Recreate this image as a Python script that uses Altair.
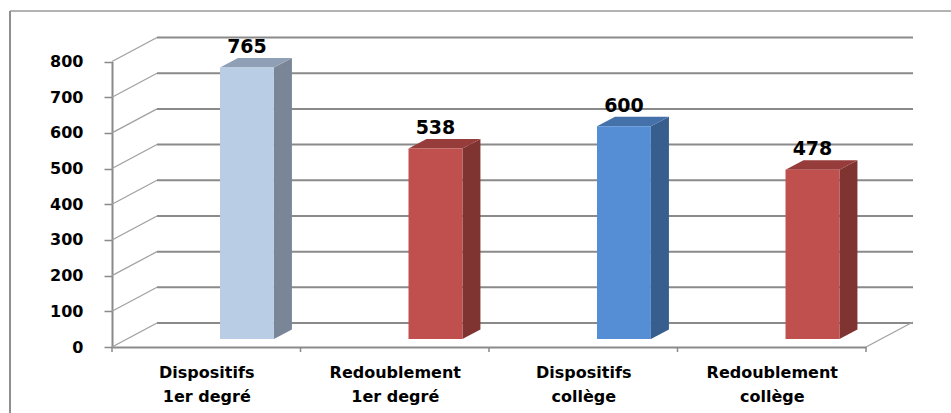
import json
import altair as alt
import pandas as pd

# ---- data ----
categories = ["Dispositifs 1er degré", "Redoublement 1er degré",
              "Dispositifs collège", "Redoublement collège"]
label_lines = [["Dispositifs", "1er degré"], ["Redoublement", "1er degré"],
               ["Dispositifs", "collège"], ["Redoublement", "collège"]]
values = [765, 538, 600, 478]
y_ticks = [0, 100, 200, 300, 400, 500, 600, 700, 800]

# ---- styles ----
front_colors = ["#B9CDE5", "#C0504D", "#558ED5", "#C0504D"]
side_colors = ["#7A8698", "#7F3432", "#375E8C", "#7F3432"]
top_colors = ["#8FA0B6", "#963D3B", "#4471AA", "#963D3B"]
GRID = "#8a8a8a"
FONT = "DejaVu Sans"

# ---- 3-D geometry ----
X_RANGE = [102, 856]          # pixel span of the 4 categories (plot coords)
Y_RANGE = [336, 50.5]         # pixel span of 0..800
px_per_cat = (X_RANGE[1] - X_RANGE[0]) / 4
px_per_val = (Y_RANGE[0] - Y_RANGE[1]) / 800
FACE_L, FACE_R = 0.573, 0.859              # front face inside each category
DEPTH_X = 18 / px_per_cat                  # bar depth, in category units
DEPTH_Y = 9.5 / px_per_val                 # bar depth, in value units
TOP_SHIFT, BASE_SHIFT = -6.6, -8           # front face lift (px)
WALL_DX, WALL_DY = 45, -24                 # back wall offset (px)

xs = alt.Scale(domain=[0, 4], range=X_RANGE, nice=False, zero=False)
ys = alt.Scale(domain=[0, 800], range=Y_RANGE, nice=False, zero=False)

label_expr = json.dumps(label_lines, ensure_ascii=False) + "[floor(datum.value)]"

x_axis = alt.Axis(
    values=[0.5, 1.5, 2.5, 3.5], labelExpr=label_expr, title=None,
    ticks=False, grid=False, domainColor=GRID, domainWidth=2,
    labelFont=FONT, labelFontWeight="bold", labelFontSize=16,
    labelColor="black", labelLineHeight=24, labelPadding=17,
    labelAngle=0, labelFlush=False, labelOverlap=False, offset=-66,
)
y_axis = alt.Axis(
    values=y_ticks, title=None, grid=False, format="d",
    domainColor=GRID, domainWidth=2, tickColor=GRID, tickSize=8,
    tickWidth=1.5, labelFont=FONT, labelFontWeight="bold",
    labelFontSize=16, labelColor="black", labelPadding=21,
    labelFlush=False, labelOverlap=False, offset=-102,
)


def X(field):
    return alt.X(field, scale=xs, axis=x_axis)


def Y(field):
    return alt.Y(field, scale=ys, axis=y_axis)


bars = pd.DataFrame({"cat": categories, "value": values, "i": range(4)})
bars["xl"] = bars["i"] + FACE_L
bars["xr"] = bars["i"] + FACE_R
bars["xc"] = (bars["xl"] + bars["xr"]) / 2
bars["zero"] = 0

side_rows, top_rows = [], []
for c, v, xl, xr in zip(bars["cat"], bars["value"], bars["xl"], bars["xr"]):
    side_rows.append({"cat": c, "sx": xr, "lo": 0, "hi": v})
    side_rows.append({"cat": c, "sx": xr + DEPTH_X, "lo": DEPTH_Y, "hi": v + DEPTH_Y})
    top_rows.append({"cat": c, "ty": v, "tx": xl, "tx2": xr})
    top_rows.append({"cat": c, "ty": v + DEPTH_Y, "tx": xl + DEPTH_X, "tx2": xr + DEPTH_X})
side = pd.DataFrame(side_rows)
top = pd.DataFrame(top_rows)

grid = pd.DataFrame({"v": y_ticks, "x0": 0, "x1": 4})
bounds = pd.DataFrame({"b": [0, 1, 2, 3, 4], "z": 0})
floor_edge = pd.DataFrame({"b": [4], "z": [0]})
one = pd.DataFrame({"k": [0]})

# outer chart frame (left and top edges)
frame_left = alt.Chart(one).mark_rule(color="#8f8f8f", strokeWidth=2).encode(
    x=alt.value(0), y=alt.value(0), y2=alt.value(402)
)
frame_top = alt.Chart(one).mark_rule(color="#9a9a9a", strokeWidth=1.5).encode(
    x=alt.value(0), x2=alt.value(941), y=alt.value(0)
)

# back wall horizontal lines
wall = alt.Chart(grid).mark_rule(
    color=GRID, strokeWidth=2, xOffset=WALL_DX, x2Offset=WALL_DX + 2, yOffset=WALL_DY
).encode(x=X("x0:Q"), x2="x1:Q", y=Y("v:Q"))

# side wall lines running from the front axis to the back wall
diag = alt.Chart(grid).mark_rule(
    color="#a0a0a0", strokeWidth=1.2, x2Offset=WALL_DX, y2Offset=WALL_DY
).encode(x=X("x0:Q"), x2="x0:Q", y=Y("v:Q"), y2="v:Q")

# right edge of the floor
edge = alt.Chart(floor_edge).mark_rule(
    color="#a0a0a0", strokeWidth=1.2, x2Offset=WALL_DX + 2, y2Offset=WALL_DY - 1
).encode(x=X("b:Q"), x2="b:Q", y=Y("z:Q"), y2="z:Q")

# category tick marks under the floor
cat_ticks = alt.Chart(bounds).mark_rule(
    color=GRID, strokeWidth=1.5, y2Offset=5
).encode(x=X("b:Q"), y=Y("z:Q"), y2="z:Q")

side_face = alt.Chart(side).mark_area(
    orient="vertical", yOffset=TOP_SHIFT, y2Offset=BASE_SHIFT
).encode(
    x=X("sx:Q"),
    y=alt.Y("hi:Q", scale=ys, axis=y_axis, stack=None),
    y2="lo:Q",
    color=alt.Color("cat:N", scale=alt.Scale(domain=categories, range=side_colors), legend=None),
    detail="cat:N",
)

top_face = alt.Chart(top).mark_area(
    orient="horizontal", yOffset=TOP_SHIFT
).encode(
    y=Y("ty:Q"),
    x=alt.X("tx:Q", scale=xs, axis=x_axis, stack=None),
    x2="tx2:Q",
    color=alt.Color("cat:N", scale=alt.Scale(domain=categories, range=top_colors), legend=None),
    detail="cat:N",
)

front_face = alt.Chart(bars).mark_rect(
    yOffset=TOP_SHIFT, y2Offset=BASE_SHIFT
).encode(
    x=X("xl:Q"), x2="xr:Q", y=Y("value:Q"), y2="zero:Q",
    color=alt.Color("cat:N", scale=alt.Scale(domain=categories, range=front_colors), legend=None),
)

labels = alt.Chart(bars).mark_text(
    dy=-21, baseline="alphabetic", font=FONT, fontSize=19,
    fontWeight="bold", color="black"
).encode(x=X("xc:Q"), y=Y("value:Q"), text="value:Q")

chart = alt.layer(
    frame_left, frame_top, wall, diag, edge, cat_ticks,
    side_face, top_face, front_face, labels
).resolve_scale(
    color="independent"
).properties(
    width=941, height=402,
    autosize=alt.AutoSizeParams(type="none"),
    padding={"left": 10, "top": 11, "right": 0, "bottom": 0},
    background="white",
).configure_view(stroke=None)

chart.save("out.html", embed_options={"renderer": "svg", "actions": False})
